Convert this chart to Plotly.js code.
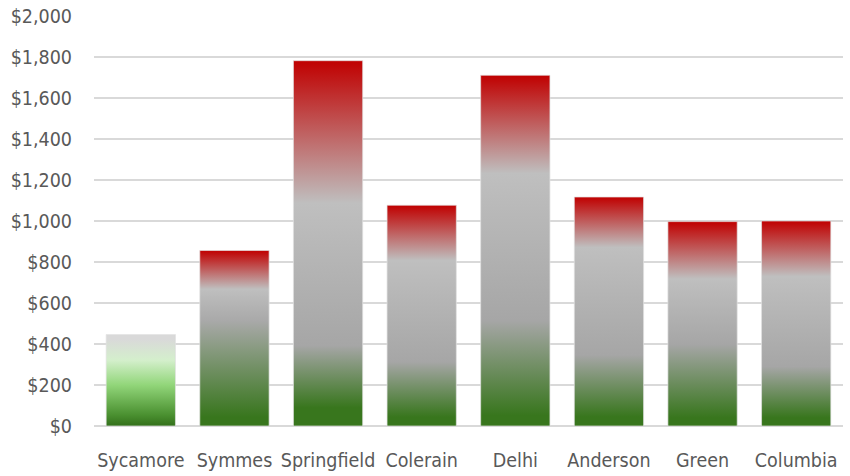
<!DOCTYPE html>
<html>
<head>
<meta charset="utf-8">
<script src="https://cdn.plot.ly/plotly-3.0.1.min.js"></script>
<style>
  html, body { margin: 0; padding: 0; background: #ffffff; }
  #chart { width: 850px; height: 476px; }
</style>
</head>
<body>
<div id="chart"></div>
<script>
// ---- data ----
const categories = ["Sycamore", "Symmes", "Springfield", "Colerain", "Delhi", "Anderson", "Green", "Columbia"];
const values = [446, 856, 1782, 1077, 1711, 1117, 997, 1000];
const yTickValues = [0, 200, 400, 600, 800, 1000, 1200, 1400, 1600, 1800, 2000];

// ---- styles ----
const G = "#38761d", DG = "#a6a6a6", LG = "#bfbfbf", R = "#c00000";
const gradients = [
  [[0, "#33701b"], [0.12, "#4a9030"], [0.45, "#92d67a"], [0.72, "#d4efcc"], [0.95, "#d9d9d9"], [1, "#d9d9d9"]],
  [[0, G], [0.05, G], [0.6, "#a9a9a9"], [0.78, LG], [1, R]],
  [[0, G], [0.05, G], [0.22, DG], [0.61, LG], [1, R]],
  [[0, G], [0.04, G], [0.29, DG], [0.75, LG], [1, R]],
  [[0, G], [0.03, G], [0.30, DG], [0.72, LG], [1, R]],
  [[0, G], [0.04, G], [0.31, DG], [0.78, LG], [1, R]],
  [[0, G], [0.04, G], [0.40, DG], [0.72, LG], [1, R]],
  [[0, G], [0.04, G], [0.29, DG], [0.73, LG], [1, R]]
];
const barWidth = 0.74;
const fontFamily = "'DejaVu Sans Condensed', 'Liberation Sans Narrow', 'DejaVu Sans', sans-serif";
const textColor = "#595959";

// Each bar: a filled rectangle in data space with a vertical gradient
const traces = categories.map((name, i) => {
  const x0 = i - barWidth / 2, x1 = i + barWidth / 2, v = values[i];
  return {
    type: "scatter",
    mode: "lines",
    name: name,
    x: [x0, x0, x1, x1, x0],
    y: [0, v, v, 0, 0],
    fill: "toself",
    fillgradient: { type: "vertical", start: 0, stop: v, colorscale: gradients[i] },
    line: { color: "rgba(225,225,225,0.7)", width: 1 },
    hoverinfo: "text",
    text: name + ": $" + v.toLocaleString("en-US"),
    showlegend: false
  };
});

const layout = {
  width: 850,
  height: 476,
  margin: { l: 94, r: 7, t: 16, b: 50 },
  paper_bgcolor: "#ffffff",
  plot_bgcolor: "#ffffff",
  font: { family: fontFamily, size: 19.5, color: textColor },
  showlegend: false,
  xaxis: {
    range: [-0.5, categories.length - 0.5],
    tickmode: "array",
    tickvals: categories.map((c, i) => i),
    ticktext: categories,
    showgrid: false,
    zeroline: false,
    showline: false,
    ticks: "",
    ticklabelstandoff: 20,
    tickfont: { family: fontFamily, size: 19.5, color: textColor },
    fixedrange: true
  },
  yaxis: {
    range: [0, 2000],
    tickmode: "array",
    tickvals: yTickValues,
    ticktext: yTickValues.map(v => "$" + v.toLocaleString("en-US")),
    showgrid: true,
    gridcolor: "#d9d9d9",
    gridwidth: 1.3,
    zeroline: true,
    zerolinecolor: "#d9d9d9",
    zerolinewidth: 1.3,
    showline: false,
    ticks: "",
    ticklabelstandoff: 21,
    tickfont: { family: fontFamily, size: 19.5, color: textColor },
    fixedrange: true
  }
};

Plotly.newPlot("chart", traces, layout, { displayModeBar: false, staticPlot: true });
</script>
</body>
</html>
